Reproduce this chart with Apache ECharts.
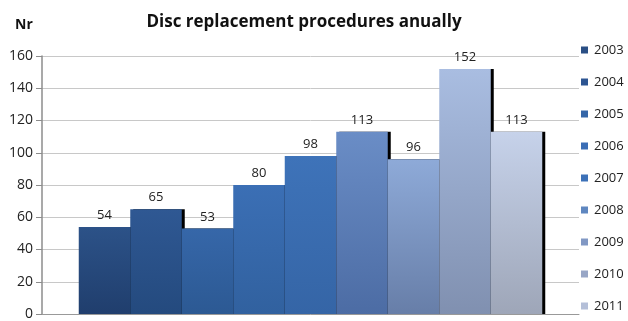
<!DOCTYPE html>
<html>
<head>
<meta charset="utf-8">
<script src="https://cdn.jsdelivr.net/npm/echarts@6/dist/echarts.min.js"></script>
<style>html,body{margin:0;padding:0;background:#fff}#c{width:628px;height:321px}</style>
</head>
<body>
<div id="c"></div>
<script>
var years = ['2003','2004','2005','2006','2007','2008','2009','2010','2011'];
var values = [54, 65, 53, 80, 98, 113, 96, 152, 113];
var yTicks = [0, 20, 40, 60, 80, 100, 120, 140, 160];

var topColors = ['#2c5288','#2f5893','#3667a9','#3b6fb5','#3e73b9','#6a8dc6','#8eaad8','#a9bde1','#c6d2ea'];
var bottomColors = ['#203e6d','#244a7e','#2c5993','#31619f','#3565a6','#4c6ca4','#677ea8','#8090b0','#9ea6b8'];
var legendColors = ['#2a4f85','#2d5592','#3566a8','#3a6db5','#3c71b8','#5f87c0','#8198c4','#98a6c6','#b4bfd8'];

var font = '"Open Sans", "Liberation Sans", sans-serif';
var chart = echarts.init(document.getElementById('c'), null, {renderer: 'canvas'});

var series = years.map(function (y, i) {
  return {
    name: y,
    type: 'bar',
    data: [values[i]],
    barWidth: 51.5,
    barGap: '0%',
    itemStyle: {
      color: new echarts.graphic.LinearGradient(0, 0, 0, 1, [
        {offset: 0, color: topColors[i]},
        {offset: 1, color: bottomColors[i]}
      ]),
      shadowColor: '#000',
      shadowOffsetX: 3,
      shadowOffsetY: 0,
      shadowBlur: 0
    },
    label: {
      show: true,
      position: 'top',
      distance: 5,
      color: '#222',
      fontFamily: font,
      fontSize: 13
    }
  };
});

chart.setOption({
  animation: false,
  title: [
    {text: 'Disc replacement procedures anually', left: 299, top: 9, textAlign: 'center',
     textStyle: {fontFamily: font, fontWeight: 'bold', fontSize: 17, color: '#111'}},
    {text: 'Nr', left: 10, top: 13,
     textStyle: {fontFamily: font, fontWeight: 'bold', fontSize: 14, color: '#111'}}
  ],
  legend: {
    orient: 'vertical',
    left: 581,
    top: 42,
    icon: 'rect',
    itemWidth: 7,
    itemHeight: 7,
    itemGap: 16,
    padding: 0,
    textStyle: {fontFamily: font, fontSize: 13, color: '#222', lineHeight: 16, padding: [0,0,0,1]},
    data: years.map(function (y, i) { return {name: y, itemStyle: {color: legendColors[i]}}; })
  },
  grid: {left: 42, right: 49, top: 56, bottom: 4, containLabel: false},
  xAxis: {
    type: 'category',
    data: [''],
    axisLine: {show: true, lineStyle: {color: '#999'}},
    axisTick: {show: false},
    axisLabel: {show: false}
  },
  yAxis: {
    type: 'value',
    min: yTicks[0],
    max: yTicks[yTicks.length - 1],
    interval: yTicks[1] - yTicks[0],
    axisLine: {show: true, lineStyle: {color: '#8c8c8c', width: 1.5}},
    axisTick: {show: true, length: 6, lineStyle: {color: '#8c8c8c'}},
    axisLabel: {fontFamily: font, fontSize: 14, color: '#222', margin: 9},
    splitLine: {lineStyle: {color: '#c8c8c8'}}
  },
  series: series
});
</script>
</body>
</html>
